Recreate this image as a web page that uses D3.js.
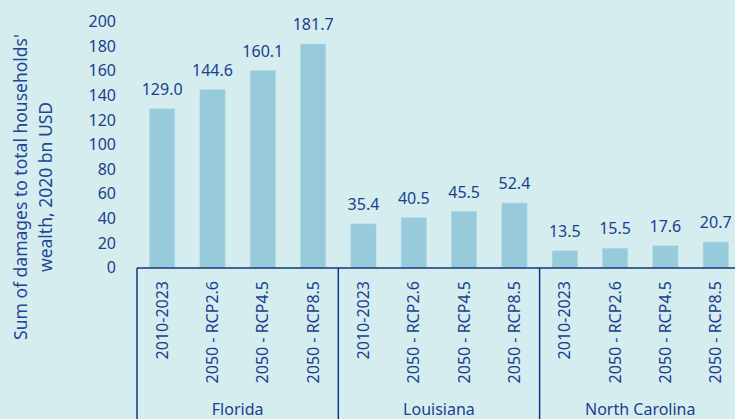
<!DOCTYPE html>
<html>
<head>
<meta charset="utf-8">
<script src="https://cdn.jsdelivr.net/npm/d3@7"></script>
<style>
  html, body { margin: 0; padding: 0; background: #d6edf0; }
  svg { display: block; font-family: "Noto Sans", sans-serif; }
</style>
</head>
<body>
<div id="chart"></div>
<script>
// data
var states = ["Florida", "Louisiana", "North Carolina"];
var scenarios = ["2010-2023", "2050 - RCP2.6", "2050 - RCP4.5", "2050 - RCP8.5"];
var florida = [129.0, 144.6, 160.1, 181.7];
var louisiana = [35.4, 40.5, 45.5, 52.4];
var northCarolina = [13.5, 15.5, 17.6, 20.7];
var yTicks = [0, 20, 40, 60, 80, 100, 120, 140, 160, 180, 200];

var width = 735;
var height = 419;
var textColour = "#1a3f8c";
var barColour = "#97cbdb";

var seriesByState = [florida, louisiana, northCarolina];
var rows = [];
states.forEach(function(s, i) {
    scenarios.forEach(function(c, j) {
        rows.push({ state: s, scenario: c, key: s + "|" + c, value: seriesByState[i][j] });
    });
});

var svg = d3.select("#chart")
    .append("svg")
    .attr("width", width)
    .attr("height", height);

var plotLeft = 137;
var groupWidth = 201.3;
var axisY = 268;

var groupScale = d3.scaleBand()
    .domain(states)
    .range([plotLeft, plotLeft + groupWidth * states.length])
    .padding(0);

var x = d3.scaleBand()
    .domain(rows.map(function(d) { return d.key; }))
    .range(groupScale.range())
    .paddingInner(0.5)
    .paddingOuter(0.25);

var y = d3.scaleLinear()
    .domain([0, 200])
    .range([267.5, 21.5]);

// y tick labels, no axis line
var yAxis = svg.append("g")
    .attr("transform", "translate(" + 116 + ",0)")
    .call(d3.axisLeft(y).tickValues(yTicks).tickSize(0).tickPadding(0));
yAxis.select(".domain").remove();
yAxis.selectAll("text")
    .attr("fill", textColour)
    .style("font-size", "16px")
    .style("font-family", "'Noto Sans', sans-serif");

// y title
svg.append("text")
    .attr("transform", "translate(27,187) rotate(-90)")
    .attr("text-anchor", "middle")
    .attr("fill", "#1f4797")
    .style("font-size", "17.5px")
    .text("Sum of damages to total households'");
svg.append("text")
    .attr("transform", "translate(52,187) rotate(-90)")
    .attr("text-anchor", "middle")
    .attr("fill", "#1f4797")
    .style("font-size", "17.5px")
    .text("wealth, 2020 bn USD");

// bars
svg.append("g")
    .selectAll("rect")
    .data(rows)
    .enter()
    .append("rect")
    .attr("x", function(d) { return x(d.key); })
    .attr("width", x.bandwidth())
    .attr("y", function(d) { return y(d.value); })
    .attr("height", function(d) { return y(0) - y(d.value); })
    .attr("fill", barColour)
    .attr("stroke", "#a9d6e2")
    .attr("stroke-width", 0.6);

// value labels
svg.append("g")
    .selectAll("text")
    .data(rows)
    .enter()
    .append("text")
    .attr("x", function(d) { return x(d.key) + x.bandwidth() / 2; })
    .attr("y", function(d) { return y(d.value) - 14; })
    .attr("text-anchor", "middle")
    .attr("fill", textColour)
    .style("font-size", "16px")
    .text(function(d) { return d.value.toFixed(1); });

// x axis line + group separators
var axisG = svg.append("g")
    .attr("stroke", "#12367f")
    .attr("stroke-width", 1.5);

axisG.append("line")
    .attr("x1", groupScale.range()[0])
    .attr("x2", groupScale.range()[1])
    .attr("y1", axisY)
    .attr("y2", axisY);

var bounds = states.map(function(s) { return groupScale(s); })
    .concat([groupScale.range()[1]]);
axisG.selectAll("line.sep")
    .data(bounds)
    .enter()
    .append("line")
    .attr("class", "sep")
    .attr("x1", function(d) { return d; })
    .attr("x2", function(d) { return d; })
    .attr("y1", axisY)
    .attr("y2", height);

// category labels (rotated)
svg.append("g")
    .selectAll("text")
    .data(rows)
    .enter()
    .append("text")
    .attr("transform", function(d) {
        return "translate(" + (x(d.key) + x.bandwidth() / 2) + "," + 281 + ") rotate(-90)";
    })
    .attr("dy", "0.35em")
    .attr("text-anchor", "end")
    .attr("fill", textColour)
    .style("font-size", "16px")
    .text(function(d) { return d.scenario; });

// group labels
svg.append("g")
    .selectAll("text")
    .data(states)
    .enter()
    .append("text")
    .attr("x", function(d) { return groupScale(d) + groupScale.bandwidth() / 2; })
    .attr("y", 415)
    .attr("text-anchor", "middle")
    .attr("fill", textColour)
    .style("font-size", "16px")
    .text(function(d) { return d; });
</script>
</body>
</html>
